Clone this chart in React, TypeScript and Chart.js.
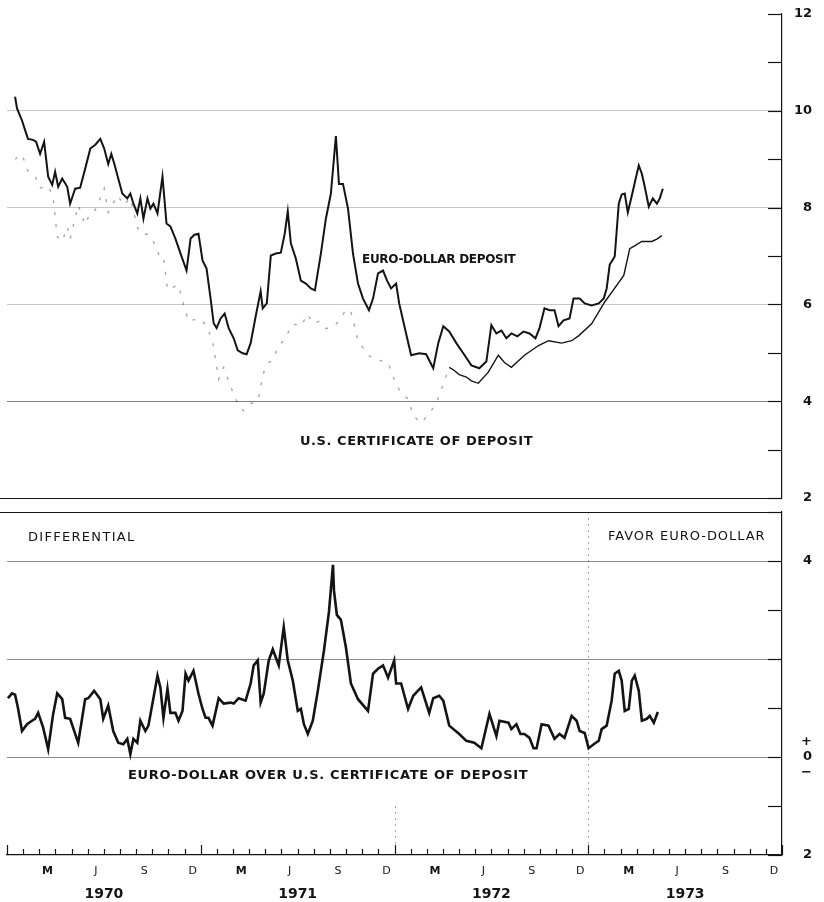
import React, { useEffect, useRef } from 'react';
import { Chart, registerables } from 'chart.js';

Chart.register(...registerables);

// x values are months since 1 Jan 1970
const euroMonths = [0.5, 0.62, 0.93, 1.12, 1.3, 1.61, 1.8, 2.05, 2.3, 2.55, 2.8, 2.98, 3.17, 3.42, 3.73, 3.91, 4.22, 4.53, 4.84, 5.16, 5.47, 5.78, 6.02, 6.27, 6.46, 6.65, 6.89, 7.14, 7.45, 7.64, 7.83, 8.07, 8.26, 8.45, 8.7, 8.88, 9.07, 9.32, 9.63, 9.88, 10.12, 10.43, 10.75, 11.12, 11.37, 11.61, 11.86, 12.11, 12.36, 12.61, 12.8, 12.98, 13.23, 13.48, 13.73, 14.04, 14.29, 14.6, 14.84, 15.09, 15.4, 15.71, 15.84, 16.09, 16.34, 16.65, 16.96, 17.2, 17.39, 17.58, 17.89, 18.2, 18.51, 18.82, 19.07, 19.44, 19.75, 20.06, 20.37, 20.56, 20.81, 21.12, 21.43, 21.74, 22.05, 22.42, 22.67, 22.98, 23.29, 23.54, 23.79, 24.1, 24.29, 24.6, 25.03, 25.53, 25.96, 26.4, 26.71, 27.02, 27.39, 27.83, 28.26, 28.76, 29.25, 29.69, 30.0, 30.31, 30.62, 30.93, 31.24, 31.61, 31.99, 32.36, 32.73, 32.98, 33.29, 33.6, 33.91, 34.16, 34.47, 34.84, 35.09, 35.47, 35.78, 36.21, 36.65, 36.96, 37.14, 37.33, 37.64, 37.89, 38.07, 38.26, 38.45, 38.7, 38.94, 39.13, 39.32, 39.5, 39.75, 40.0, 40.25, 40.43, 40.62];
const euroRates = [10.29, 10.05, 9.8, 9.6, 9.42, 9.4, 9.36, 9.11, 9.36, 8.64, 8.47, 8.74, 8.43, 8.6, 8.43, 8.08, 8.39, 8.41, 8.8, 9.22, 9.3, 9.42, 9.22, 8.9, 9.11, 8.9, 8.6, 8.29, 8.19, 8.29, 8.08, 7.88, 8.19, 7.77, 8.19, 7.98, 8.08, 7.88, 8.64, 7.67, 7.61, 7.36, 7.05, 6.7, 7.36, 7.44, 7.46, 6.91, 6.74, 6.12, 5.61, 5.51, 5.71, 5.81, 5.51, 5.3, 5.05, 4.99, 4.97, 5.2, 5.75, 6.27, 5.92, 6.02, 7.01, 7.05, 7.07, 7.46, 7.92, 7.26, 6.95, 6.49, 6.43, 6.33, 6.29, 7.05, 7.77, 8.29, 9.48, 8.49, 8.49, 7.98, 7.05, 6.43, 6.12, 5.88, 6.12, 6.64, 6.7, 6.49, 6.33, 6.43, 6.02, 5.57, 4.95, 4.99, 4.97, 4.68, 5.2, 5.55, 5.44, 5.2, 4.99, 4.74, 4.68, 4.82, 5.57, 5.4, 5.46, 5.3, 5.4, 5.34, 5.44, 5.4, 5.3, 5.51, 5.92, 5.88, 5.88, 5.55, 5.67, 5.71, 6.12, 6.12, 6.02, 5.98, 6.02, 6.12, 6.33, 6.82, 6.99, 8.08, 8.27, 8.29, 7.9, 8.25, 8.6, 8.87, 8.7, 8.43, 8.02, 8.19, 8.08, 8.19, 8.39];

const cdMonths = [0.5, 0.93, 1.3, 1.74, 2.05, 2.55, 2.86, 3.11, 3.42, 3.73, 3.91, 4.41, 4.84, 5.16, 5.47, 5.78, 6.02, 6.27, 6.58, 6.89, 7.2, 7.64, 8.07, 8.32, 8.76, 9.07, 9.44, 9.69, 9.94, 10.25, 10.62, 10.93, 11.24, 11.55, 12.0, 12.36, 12.73, 13.11, 13.42, 13.85, 14.35, 14.66, 15.09, 15.53, 15.9, 16.21, 16.46, 16.83, 17.14, 17.7, 18.2, 18.63, 18.94, 19.32, 19.75, 20.25, 20.68, 20.99, 21.3, 21.74, 22.36, 22.98, 23.6, 23.98, 24.41, 24.84, 25.16, 25.65, 26.15, 26.58, 27.02, 27.39, 27.64, 28.01, 28.45, 28.76, 29.19, 29.81, 30.43, 30.81, 31.24, 32.05, 32.92, 33.54, 34.35, 34.97, 35.4, 36.21, 37.02, 37.45, 38.2, 38.57, 38.82, 39.32, 39.94, 40.25, 40.56];
const cdRates = [9.0, 9.1, 8.75, 8.65, 8.4, 8.45, 8.2, 7.4, 7.3, 7.6, 7.35, 8.05, 7.65, 7.9, 7.95, 8.2, 8.4, 7.9, 8.1, 8.25, 8.05, 8.2, 7.6, 7.45, 7.45, 7.3, 7.0, 7.0, 6.3, 6.35, 6.4, 6.0, 5.65, 5.68, 5.7, 5.55, 5.25, 4.45, 4.7, 4.3, 3.9, 3.8, 3.95, 4.0, 4.6, 4.8, 4.85, 5.15, 5.25, 5.6, 5.55, 5.8, 5.6, 5.65, 5.5, 5.55, 5.7, 5.9, 5.85, 5.25, 4.95, 4.85, 4.8, 4.45, 4.15, 4.05, 3.7, 3.55, 3.75, 3.95, 4.35, 4.7, 4.65, 4.55, 4.5, 4.42, 4.37, 4.6, 4.95, 4.8, 4.7, 4.95, 5.15, 5.25, 5.2, 5.25, 5.35, 5.6, 6.05, 6.25, 6.6, 7.15, 7.2, 7.3, 7.3, 7.35, 7.42];

const diffMonths = [0.06, 0.31, 0.5, 0.68, 0.93, 1.24, 1.55, 1.74, 1.93, 2.24, 2.55, 2.86, 3.11, 3.42, 3.6, 3.91, 4.41, 4.84, 5.03, 5.4, 5.78, 5.96, 6.27, 6.58, 6.89, 7.2, 7.45, 7.64, 7.83, 8.07, 8.26, 8.57, 8.76, 9.32, 9.5, 9.69, 9.94, 10.12, 10.43, 10.62, 10.87, 11.06, 11.24, 11.55, 11.86, 12.11, 12.3, 12.48, 12.73, 13.11, 13.42, 13.85, 14.04, 14.35, 14.78, 15.09, 15.28, 15.53, 15.71, 15.9, 16.21, 16.46, 16.83, 17.14, 17.39, 17.7, 18.01, 18.2, 18.39, 18.63, 18.94, 19.25, 19.63, 19.94, 20.19, 20.25, 20.43, 20.68, 20.99, 21.3, 21.74, 22.36, 22.67, 22.98, 23.29, 23.6, 23.98, 24.1, 24.41, 24.84, 25.16, 25.65, 26.15, 26.4, 26.77, 27.02, 27.39, 28.01, 28.45, 28.94, 29.38, 29.88, 30.31, 30.5, 31.06, 31.24, 31.55, 31.8, 32.05, 32.36, 32.61, 32.8, 33.11, 33.54, 33.91, 34.22, 34.53, 34.97, 35.28, 35.47, 35.78, 36.02, 36.34, 36.65, 36.83, 37.14, 37.45, 37.64, 37.89, 38.07, 38.26, 38.51, 38.7, 38.88, 39.13, 39.32, 39.63, 39.81, 40.06, 40.31];
const diffValues = [1.2, 1.3, 1.27, 1.0, 0.53, 0.67, 0.74, 0.78, 0.9, 0.6, 0.16, 0.88, 1.3, 1.18, 0.8, 0.78, 0.29, 1.18, 1.2, 1.35, 1.18, 0.78, 1.05, 0.53, 0.29, 0.26, 0.37, 0.06, 0.37, 0.29, 0.74, 0.53, 0.64, 1.66, 1.42, 0.8, 1.39, 0.9, 0.9, 0.74, 0.94, 1.7, 1.56, 1.76, 1.29, 0.98, 0.8, 0.8, 0.64, 1.2, 1.09, 1.11, 1.09, 1.2, 1.15, 1.5, 1.87, 1.97, 1.11, 1.29, 1.97, 2.2, 1.87, 2.65, 1.97, 1.56, 0.94, 0.98, 0.67, 0.47, 0.74, 1.35, 2.17, 2.96, 3.92, 3.4, 2.9, 2.8, 2.24, 1.5, 1.18, 0.94, 1.7, 1.8, 1.87, 1.62, 1.97, 1.5, 1.5, 0.98, 1.25, 1.42, 0.9, 1.2, 1.25, 1.15, 0.64, 0.47, 0.33, 0.29, 0.18, 0.88, 0.43, 0.74, 0.7, 0.57, 0.67, 0.47, 0.47, 0.39, 0.18, 0.18, 0.67, 0.64, 0.37, 0.47, 0.39, 0.84, 0.74, 0.53, 0.49, 0.18, 0.26, 0.33, 0.57, 0.64, 1.15, 1.7, 1.76, 1.56, 0.94, 0.98, 1.56, 1.66, 1.35, 0.74, 0.78, 0.84, 0.7, 0.92];

const years = ['1970', '1971', '1972', '1973'];
const monthLabels = ['M', 'J', 'S', 'D'];
const monthLabelOffsets = [2.5, 5.5, 8.5, 11.5];
const yearLabelOffset = 6;
const topTickLabels: Record<number, string> = { 12: '12', 10: '10', 8: '8', 6: '6', 4: '4', 2: '2' };
const bottomTickLabels: Record<number, string | string[]> = { 4: '4', 0: ['+', '0', '\u2212'], [-2]: '2' };

const INK = '#141414';
const FONT = '"DejaVu Sans", sans-serif';

const pts = (xs: number[], ys: number[]) => xs.map((x, i) => ({ x, y: ys[i] }));

function decoPlugin(kind: 'top' | 'bottom') {
  return {
    id: 'deco_' + kind,
    afterDraw(chart: any) {
      const { ctx, chartArea: ca, scales } = chart;
      const ys = scales.y;
      const xs = scales.x;
      ctx.save();
      ctx.strokeStyle = INK;
      ctx.lineWidth = 1.2;
      for (let v = Math.ceil(ys.min); v <= ys.max; v++) {
        const py = Math.round(ys.getPixelForValue(v)) + 0.5;
        ctx.beginPath();
        ctx.moveTo(ca.right - 14, py);
        ctx.lineTo(ca.right, py);
        ctx.stroke();
      }
      if (kind === 'top') {
        ctx.beginPath();
        ctx.moveTo(0, ca.bottom + 0.5);
        ctx.lineTo(ca.right, ca.bottom + 0.5);
        ctx.stroke();
      } else {
        ctx.beginPath();
        ctx.moveTo(0, ca.top + 0.5);
        ctx.lineTo(ca.right, ca.top + 0.5);
        ctx.stroke();
        for (let m = 0; m <= 48; m++) {
          const px = Math.round(xs.getPixelForValue(m)) + 0.5;
          const len = m % 12 === 0 ? 10 : 6;
          ctx.beginPath();
          ctx.moveTo(px, ca.bottom);
          ctx.lineTo(px, ca.bottom - len);
          ctx.stroke();
        }
        ctx.strokeStyle = 'rgba(0,0,0,0.35)';
        ctx.lineWidth = 1;
        ctx.setLineDash([2, 4]);
        for (const m of [24, 36]) {
          const px = Math.round(xs.getPixelForValue(m)) + 0.5;
          ctx.beginPath();
          ctx.moveTo(px, m === 24 ? ys.getPixelForValue(-1) : ca.top);
          ctx.lineTo(px, ca.bottom);
          ctx.stroke();
        }
      }
      ctx.restore();
    },
  };
}

const yTickBase = {
  stepSize: 1,
  padding: 0,
  crossAlign: 'far',
  color: INK,
  font: { family: FONT, size: 13, weight: 'bold' },
};

function TopChart() {
  const ref = useRef<HTMLCanvasElement>(null);
  useEffect(() => {
    const chart = new Chart(ref.current!, {
      type: 'line',
      data: {
        datasets: [
          {
            label: 'Euro-dollar deposit',
            data: pts(euroMonths, euroRates),
            borderColor: INK,
            borderWidth: 2,
            pointRadius: 0,
            tension: 0,
          },
          {
            label: 'U.S. certificate of deposit',
            data: pts(cdMonths, cdRates),
            borderColor: INK,
            borderWidth: 1.4,
            pointRadius: 0,
            tension: 0,
            segment: {
              borderColor: (c: any) => (c.p0.parsed.x < 27.3 ? 'rgba(0,0,0,0.35)' : INK),
              borderDash: (c: any) => (c.p0.parsed.x < 27.3 ? [3, 9] : []),
            },
          },
        ],
      },
      options: {
        animation: false,
        responsive: false,
        devicePixelRatio: 1,
        layout: { padding: { left: 7, right: 12, top: 14, bottom: 8 } },
        plugins: { legend: { display: false }, tooltip: { enabled: false } },
        scales: {
          x: { type: 'linear', min: 0, max: 48, display: false },
          y: {
            position: 'right',
            min: 2,
            max: 12,
            afterFit: (s: any) => { s.width = 30; },
            border: { display: true, color: INK, width: 1.2 },
            grid: {
              drawTicks: false,
              color: (c: any) => {
                const v = c.tick && c.tick.value;
                if (v === 4) return 'rgba(0,0,0,0.5)';
                if (v === 6 || v === 8 || v === 10) return 'rgba(0,0,0,0.22)';
                return 'rgba(0,0,0,0)';
              },
            },
            ticks: { ...yTickBase, callback: (v: any) => topTickLabels[v as number] ?? '' },
          },
        },
      },
      plugins: [decoPlugin('top')],
    } as any);
    return () => chart.destroy();
  }, []);
  return <canvas ref={ref} width={824} height={506} style={{ position: 'absolute', left: 0, top: 0, width: 824, height: 506 }} />;
}

function BottomChart() {
  const ref = useRef<HTMLCanvasElement>(null);
  useEffect(() => {
    const xTicks: number[] = [];
    years.forEach((_, yi) => {
      monthLabelOffsets.forEach((o) => xTicks.push(yi * 12 + o));
      xTicks.push(yi * 12 + yearLabelOffset);
    });
    xTicks.sort((a, b) => a - b);
    const chart = new Chart(ref.current!, {
      type: 'line',
      data: {
        datasets: [
          {
            label: 'Euro-dollar over U.S. certificate of deposit',
            data: pts(diffMonths, diffValues),
            borderColor: INK,
            borderWidth: 2.6,
            pointRadius: 0,
            tension: 0,
          },
        ],
      },
      options: {
        animation: false,
        responsive: false,
        devicePixelRatio: 1,
        layout: { padding: { left: 7, right: 12, top: 12, bottom: 0 } },
        plugins: { legend: { display: false }, tooltip: { enabled: false } },
        scales: {
          x: {
            type: 'linear',
            min: 0,
            max: 48,
            afterFit: (s: any) => { s.height = 47; },
            afterBuildTicks: (s: any) => { s.ticks = xTicks.map((v) => ({ value: v })); },
            border: { display: true, color: INK, width: 1.2 },
            grid: { display: false, drawTicks: false },
            ticks: {
              autoSkip: false,
              maxRotation: 0,
              minRotation: 0,
              padding: 10,
              color: INK,
              font: (c: any) => {
                const v = c.tick ? c.tick.value : 0;
                const r = ((v % 12) + 12) % 12;
                if (r === yearLabelOffset) return { family: FONT, size: 14, weight: 'bold', lineHeight: 1.4 };
                if (r === 2.5) return { family: FONT, size: 11, weight: 'bold' };
                return { family: FONT, size: 11, weight: 'normal' };
              },
              callback: (v: any) => {
                const yi = Math.floor(v / 12);
                const r = v - yi * 12;
                if (r === yearLabelOffset) return ['', years[yi]];
                const idx = monthLabelOffsets.indexOf(r);
                return idx >= 0 ? monthLabels[idx] : '';
              },
            },
          },
          y: {
            position: 'right',
            min: -2,
            max: 5,
            afterFit: (s: any) => { s.width = 30; },
            border: { display: true, color: INK, width: 1.2 },
            grid: {
              drawTicks: false,
              color: (c: any) => {
                const v = c.tick && c.tick.value;
                if (v === 4 || v === 2 || v === 0) return 'rgba(0,0,0,0.45)';
                return 'rgba(0,0,0,0)';
              },
            },
            ticks: { ...yTickBase, callback: (v: any) => bottomTickLabels[v as number] ?? '' },
          },
        },
      },
      plugins: [decoPlugin('bottom')],
    } as any);
    return () => chart.destroy();
  }, []);
  return <canvas ref={ref} width={824} height={402} style={{ position: 'absolute', left: 0, top: 500, width: 824, height: 402 }} />;
}

const labelBase: React.CSSProperties = {
  position: 'absolute',
  whiteSpace: 'nowrap',
  color: INK,
  fontFamily: FONT,
  lineHeight: 1,
};

export default function App() {
  return (
    <div style={{ position: 'absolute', left: 0, top: 0, width: 824, height: 902, background: '#fff', overflow: 'hidden' }}>
      <TopChart />
      <BottomChart />
      <div style={{ ...labelBase, left: 362, top: 253, fontSize: 12, fontWeight: 'bold', letterSpacing: -0.3 }}>EURO-DOLLAR DEPOSIT</div>
      <div style={{ ...labelBase, left: 300, top: 434, fontSize: 13, fontWeight: 'bold', letterSpacing: 0.55 }}>U.S. CERTIFICATE OF DEPOSIT</div>
      <div style={{ ...labelBase, left: 28, top: 530, fontSize: 13, letterSpacing: 1.3 }}>DIFFERENTIAL</div>
      <div style={{ ...labelBase, left: 608, top: 529, fontSize: 13, letterSpacing: 0.95 }}>FAVOR EURO-DOLLAR</div>
      <div style={{ ...labelBase, left: 128, top: 768, fontSize: 13, fontWeight: 'bold', letterSpacing: 0.65 }}>EURO-DOLLAR OVER U.S. CERTIFICATE OF DEPOSIT</div>
    </div>
  );
}
